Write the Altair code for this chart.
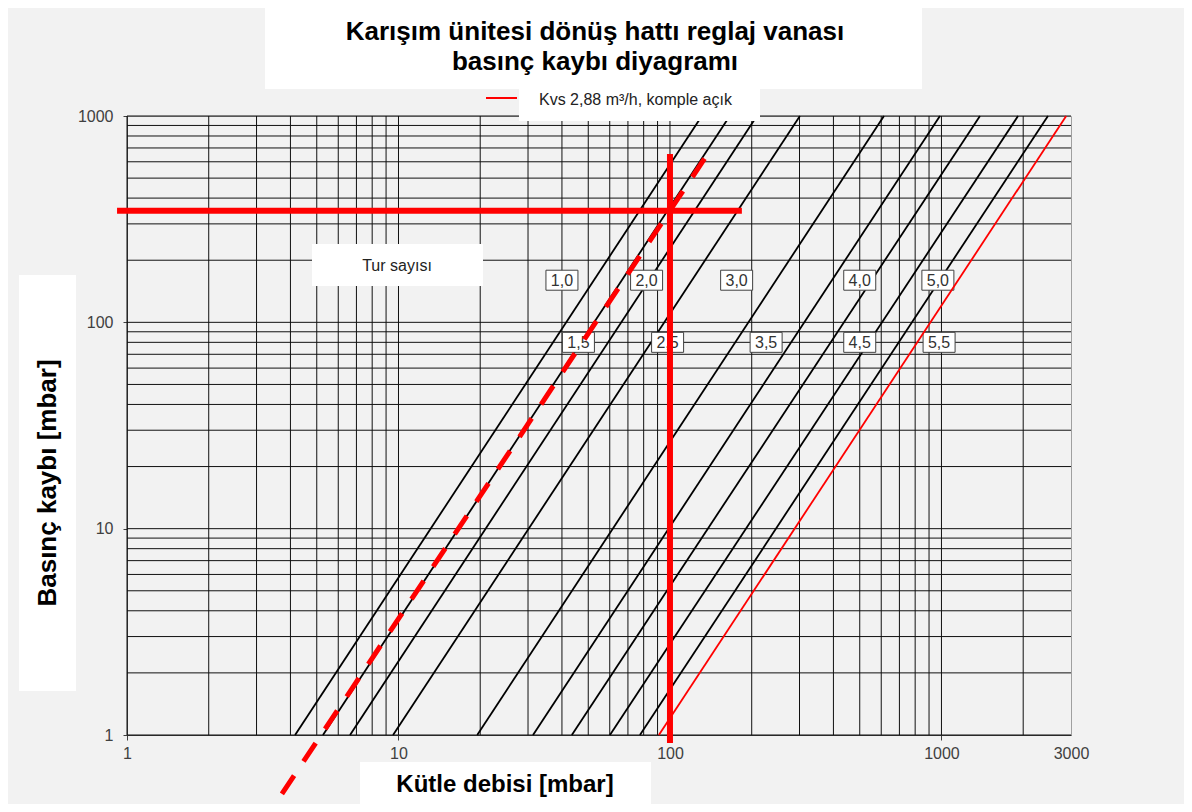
import altair as alt
import pandas as pd

# ---------------- data ----------------
x_grid = [1, 2, 3, 4, 5, 6, 7, 8, 9,
          10, 20, 30, 40, 50, 60, 70, 80, 90,
          100, 200, 300, 400, 500, 600, 700, 800, 900,
          1000, 2000]
y_grid = [1, 2, 3, 4, 5, 6, 7, 8, 9,
          10, 20, 30, 40, 50, 60, 70, 80, 90,
          100, 200, 300, 400, 500, 600, 700, 800, 900,
          1000]
x_labels = [1, 10, 100, 1000, 3000]
y_labels = [1, 10, 100, 1000]

# black characteristic lines: flow at 1 mbar and at 1000 mbar
line_flow_low = [4.16, 5.27, 6.63, 9.55, 19.5, 31.3, 43.5, 60.1, 77.5]
line_flow_high = [131, 166, 209, 301, 614, 987, 1386, 1914, 2467]
line_dp_low = 1
line_dp_high = 1000

# Kvs 2,88 fully open line
kvs_flow = [91, 2880]
kvs_dp = [1, 1000]

# example reading (dashed red)
ex_flow = [3.72, 140]
ex_dp = [0.518, 677]

# red reading rules
h_flow = [0.919, 184]
h_dp = 347
v_flow = 100
v_dp = [0.915, 655]

# turn labels
turn_text = ["1,0", "2,0", "3,0", "4,0", "5,0", "1,5", "2,5", "3,5", "4,5", "5,5"]
turn_x = [40, 82, 176, 500, 970, 46, 98, 226, 500, 980]
turn_y = [160, 160, 160, 160, 160, 80, 80, 80, 80, 80]

title_lines = ["Karışım ünitesi dönüş hattı reglaj vanası", "basınç kaybı diyagramı"]
legend_text = "Kvs 2,88 m³/h, komple açık"
x_title = "Kütle debisi [mbar]"
y_title = "Basınç kaybı [mbar]"
box_text = "Tur sayısı"

# ---------------- build tables ----------------
lines_rows = []
for i, (lo, hi) in enumerate(zip(line_flow_low, line_flow_high)):
    lines_rows.append({"id": i, "flow": lo, "dp": line_dp_low, "o": 0})
    lines_rows.append({"id": i, "flow": hi, "dp": line_dp_high, "o": 1})
lines_df = pd.DataFrame(lines_rows)
kvs_df = pd.DataFrame({"flow": kvs_flow, "dp": kvs_dp, "o": [0, 1]})
ex_df = pd.DataFrame({"flow": ex_flow, "dp": ex_dp, "o": [0, 1]})
h_df = pd.DataFrame({"flow": [h_flow[0]], "flow2": [h_flow[1]], "dp": [h_dp]})
v_df = pd.DataFrame({"flow": [v_flow], "dp": [v_dp[0]], "dp2": [v_dp[1]]})
turn_df = pd.DataFrame({"t": turn_text, "flow": turn_x, "dp": turn_y})
xg_df = pd.DataFrame({"flow": x_grid})
yg_df = pd.DataFrame({"dp": y_grid})
one = pd.DataFrame({"a": [1]})

FONT = "Liberation Sans"
X0, Y0 = 127, 116  # page position of plot origin


def px(v):
    return v - X0


def py(v):
    return v - Y0


xscale = alt.Scale(type="log", domain=[1, 3000], nice=False)
yscale = alt.Scale(type="log", domain=[1, 1000], nice=False)

xaxis = alt.Axis(values=x_labels, format="d", title=None, grid=False,
                 labelFont=FONT, labelFontSize=16, labelColor="#404040",
                 tickSize=5, tickColor="#404040", domainColor="#404040",
                 labelPadding=5, labelFlush=False, labelOverlap=False,
                 tickOpacity={"condition": {"test": "datum.value < 2000", "value": 1}, "value": 0})
yaxis = alt.Axis(values=y_labels, format="d", title=None, grid=False,
                 labelFont=FONT, labelFontSize=16, labelColor="#404040",
                 tickSize=4, tickColor="#404040", domainColor="#404040",
                 labelPadding=10, labelFlush=False, labelOverlap=False)

xgrid = alt.Chart(xg_df).mark_rule(color="#111111", strokeWidth=1).encode(
    x=alt.X("flow:Q", scale=xscale, axis=xaxis))
ygrid = alt.Chart(yg_df).mark_rule(color="#111111", strokeWidth=1).encode(
    y=alt.Y("dp:Q", scale=yscale, axis=yaxis))

black_lines = alt.Chart(lines_df).mark_line(color="black", strokeWidth=1.8).encode(
    x=alt.X("flow:Q", scale=xscale), y=alt.Y("dp:Q", scale=yscale),
    detail="id:N", order="o:Q")

turn_boxes = alt.Chart(turn_df).mark_rect(width=32, height=20, fill="white",
                                          stroke="#404040", strokeWidth=1).encode(
    x=alt.X("flow:Q", scale=xscale), y=alt.Y("dp:Q", scale=yscale))
turn_labels = alt.Chart(turn_df).mark_text(font=FONT, fontSize=16, color="#333333", dy=1).encode(
    x=alt.X("flow:Q", scale=xscale), y=alt.Y("dp:Q", scale=yscale), text="t:N")

kvs_line = alt.Chart(kvs_df).mark_line(color="#ff0000", strokeWidth=1.8).encode(
    x=alt.X("flow:Q", scale=xscale), y=alt.Y("dp:Q", scale=yscale), order="o:Q")
ex_line = alt.Chart(ex_df).mark_line(color="#ff0000", strokeWidth=5, strokeDash=[22, 17]).encode(
    x=alt.X("flow:Q", scale=xscale), y=alt.Y("dp:Q", scale=yscale), order="o:Q")
h_rule = alt.Chart(h_df).mark_rule(color="#ff0000", strokeWidth=6).encode(
    x=alt.X("flow:Q", scale=xscale), x2="flow2:Q", y=alt.Y("dp:Q", scale=yscale))
v_rule = alt.Chart(v_df).mark_rule(color="#ff0000", strokeWidth=6).encode(
    x=alt.X("flow:Q", scale=xscale), y=alt.Y("dp:Q", scale=yscale), y2="dp2:Q")


def box(x1, y1, x2, y2):
    return alt.Chart(one).mark_rect(fill="white", stroke=None).encode(
        x=alt.value(px(x1)), x2=alt.value(px(x2)), y=alt.value(py(y1)), y2=alt.value(py(y2)))


def label(txt, x, y, size, bold=False, angle=0, align="center", baseline="middle"):
    kw = dict(font=FONT, fontSize=size, color="black", align=align, baseline=baseline)
    if bold:
        kw["fontWeight"] = "bold"
    if angle:
        kw["angle"] = angle
    return alt.Chart(one).mark_text(**kw).encode(
        x=alt.value(px(x)), y=alt.value(py(y)), text=alt.value(txt))


title_box = box(265, 5, 922, 89)
title1 = label(title_lines[0], 595, 40, 26, bold=True, baseline="alphabetic")
title2 = label(title_lines[1], 595, 70, 26, bold=True, baseline="alphabetic")

legend_box = box(519, 88, 760, 121)
legend_line = alt.Chart(one).mark_rule(color="#ff0000", strokeWidth=2).encode(
    x=alt.value(px(486)), x2=alt.value(px(517)), y=alt.value(py(98)))
legend_lbl = alt.Chart(one).mark_text(font=FONT, fontSize=16, color="#222222", align="left",
                                      baseline="middle").encode(
    x=alt.value(px(539)), y=alt.value(py(100)), text=alt.value(legend_text))

tur_box = box(312, 244, 483, 286)
tur_lbl = alt.Chart(one).mark_text(font=FONT, fontSize=16, color="#222222").encode(
    x=alt.value(px(397)), y=alt.value(py(266)), text=alt.value(box_text))

ytitle_box = box(19, 275, 76, 691)
ytitle = label(y_title, 48, 483, 26, bold=True, angle=270)
xtitle_box = box(360, 762, 651, 805)
xtitle = label(x_title, 505, 785, 24, bold=True)

chart = alt.layer(
    xgrid, ygrid, black_lines, turn_boxes, turn_labels,
    kvs_line, ex_line, h_rule, v_rule,
    tur_box, tur_lbl, legend_box, legend_line, legend_lbl,
    title_box, title1, title2, ytitle_box, ytitle, xtitle_box, xtitle,
).properties(
    width=944, height=619,
    autosize=alt.AutoSizeParams(type="none"),
    padding={"left": 119, "top": 108, "right": 113, "bottom": 69},
    background="#f2f2f2",
).configure_view(stroke="#a0a0a0", strokeWidth=1, fill="#f2f2f2")

chart.save("out.html", embed_options={"renderer": "svg", "actions": False})
